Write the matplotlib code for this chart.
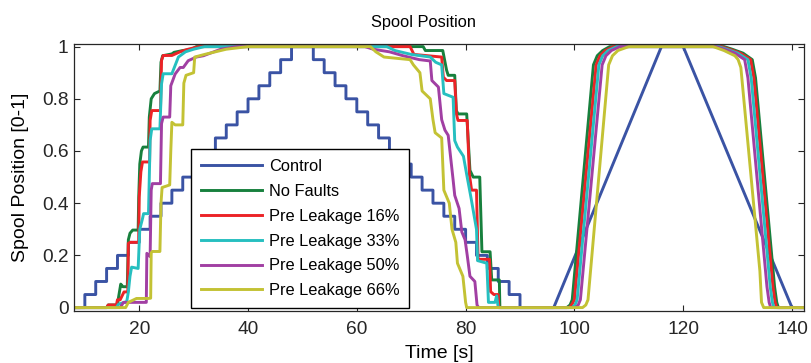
import numpy as np
import matplotlib
matplotlib.use("Agg")
import matplotlib.pyplot as plt

plt.rcParams['font.family'] = ['Liberation Sans', 'DejaVu Sans']

# control signal: staircase part (level held from each time on)
ctrl_step_t = [8, 10, 12, 14, 16, 18, 20, 22, 24, 26, 28, 30, 32, 34, 36, 38, 40,
               42, 44, 46, 48, 52, 54, 56, 58, 60, 62, 64, 66, 68, 70, 72, 74, 76,
               78, 80, 82, 84, 86, 88, 90]
ctrl_step_y = [0, 0.05, 0.1, 0.15, 0.2, 0.25, 0.3, 0.35, 0.4, 0.45, 0.5, 0.55, 0.6,
               0.65, 0.7, 0.75, 0.8, 0.85, 0.9, 0.95, 1.0, 0.95, 0.9, 0.85, 0.8,
               0.75, 0.7, 0.65, 0.6, 0.55, 0.5, 0.45, 0.4, 0.35, 0.3, 0.25, 0.2,
               0.15, 0.1, 0.05, 0]
# control signal: ramp part
ctrl_ramp_t = [96.2, 116, 120, 140, 142]
ctrl_ramp_y = [0, 1, 1, 0, 0]

no_faults = [(8, 0), (14.0, 0), (14.3, 0.01), (16.0, 0.01), (16.2, 0.04), (16.6, 0.09),
             (17.0, 0.08), (17.8, 0.08), (18.0, 0.26), (18.3, 0.285), (18.8, 0.297),
             (19.8, 0.297), (19.9, 0.42), (20.1, 0.55), (20.4, 0.60), (20.7, 0.615),
             (21.7, 0.615), (21.85, 0.73), (22.2, 0.80), (22.8, 0.82), (23.8, 0.83),
             (24.0, 0.94), (24.3, 0.965), (26.0, 0.972), (26.4, 0.978), (28.0, 0.985),
             (29.6, 0.99), (30.5, 1.0), (72.2, 1.0), (72.6, 0.985), (75.8, 0.985),
             (76.5, 0.91), (76.8, 0.89), (78.0, 0.89), (78.3, 0.755), (78.6, 0.742),
             (80.2, 0.742), (80.8, 0.526), (81.4, 0.50), (82.6, 0.50), (83.0, 0.214),
             (84.5, 0.214), (84.8, 0.106), (86.2, 0.106), (86.3, 0), (98.6, 0),
             (99.2, 0.01), (99.6, 0.03), (103.5, 0.93), (104.2, 0.965), (105.2, 0.985),
             (106.5, 1.0), (127.5, 1.0), (129.0, 0.99), (131.0, 0.975), (132.7, 0.95),
             (133.3, 0.88), (136.8, 0.08), (137.2, 0.02), (137.5, 0), (142, 0)]

leak16 = [(8, 0), (14.0, 0), (14.3, 0.01), (15.8, 0.01), (16.0, 0.03), (16.5, 0.03),
          (17.2, 0.06), (17.9, 0.06), (18.0, 0.246), (18.3, 0.25), (19.9, 0.25),
          (20.0, 0.424), (20.3, 0.52), (20.6, 0.558), (21.9, 0.558), (22.0, 0.717),
          (22.3, 0.755), (23.9, 0.755), (24.1, 0.947), (24.4, 0.966), (26.0, 0.966),
          (27.5, 0.98), (29.0, 0.99), (31.0, 1.0), (69.8, 1.0), (70.5, 0.97),
          (75.6, 0.96), (75.9, 0.883), (76.5, 0.87), (78.0, 0.87), (78.3, 0.743),
          (78.6, 0.717), (80.3, 0.717), (80.7, 0.51), (81.1, 0.45), (82.0, 0.45),
          (82.3, 0.18), (82.6, 0.185), (84.4, 0.185), (84.6, 0.061), (85.2, 0.05),
          (86.0, 0.05), (86.1, 0), (99.0, 0), (99.5, 0.01), (100.0, 0.03),
          (104.0, 0.93), (104.7, 0.965), (105.7, 0.985), (107.2, 1.0), (127.0, 1.0),
          (128.5, 0.99), (130.5, 0.975), (132.4, 0.95), (133.0, 0.88), (136.5, 0.08),
          (136.9, 0.02), (137.2, 0), (142, 0)]

leak33 = [(8, 0), (15.8, 0), (16.2, 0.013), (17.7, 0.023), (18.0, 0.06), (18.3, 0.12),
          (18.6, 0.155), (19.8, 0.15), (20.1, 0.30), (20.6, 0.341), (20.8, 0.36),
          (21.7, 0.36), (22.0, 0.64), (22.3, 0.685), (23.8, 0.685), (24.1, 0.857),
          (24.4, 0.896), (26.0, 0.896), (27.2, 0.96), (28.5, 0.98), (30.0, 0.99),
          (32.0, 1.0), (65.5, 1.0), (67.0, 0.985), (70.0, 0.97), (73.5, 0.96),
          (74.5, 0.94), (75.6, 0.93), (76.0, 0.82), (77.7, 0.806), (78.0, 0.64),
          (78.5, 0.615), (79.6, 0.58), (80.2, 0.51), (81.0, 0.42), (82.0, 0.30),
          (82.2, 0.18), (83.9, 0.17), (84.2, 0.02), (85.4, 0.02), (85.7, 0.045),
          (86.0, 0), (99.6, 0), (100.1, 0.01), (100.5, 0.03), (104.5, 0.93),
          (105.2, 0.965), (106.2, 0.985), (107.8, 1.0), (126.5, 1.0), (128.0, 0.99),
          (130.0, 0.975), (131.9, 0.95), (132.5, 0.88), (136.0, 0.08), (136.4, 0.02),
          (136.7, 0), (142, 0)]

leak50 = [(8, 0), (16.5, 0), (17.1, 0.02), (21.3, 0.02), (21.4, 0.208), (22.0, 0.195),
          (22.2, 0.45), (22.4, 0.475), (23.9, 0.475), (24.1, 0.705), (24.4, 0.73),
          (25.6, 0.73), (25.8, 0.85), (26.6, 0.895), (27.5, 0.92), (28.1, 0.92),
          (29.0, 0.946), (30.5, 0.96), (31.8, 0.965), (35.0, 0.99), (38.0, 1.0),
          (61.5, 1.0), (63.0, 0.99), (66.0, 0.98), (68.5, 0.965), (71.5, 0.95),
          (73.5, 0.945), (73.8, 0.87), (75.0, 0.845), (75.6, 0.72), (76.2, 0.68),
          (76.8, 0.66), (77.7, 0.49), (78.0, 0.43), (78.8, 0.38), (79.3, 0.29),
          (79.9, 0.26), (80.3, 0.2), (80.8, 0.12), (81.7, 0.1), (82.1, 0.01),
          (82.4, 0), (100.2, 0), (100.7, 0.01), (101.1, 0.03), (105.1, 0.93),
          (105.8, 0.965), (106.8, 0.985), (108.4, 1.0), (126.0, 1.0), (127.5, 0.99),
          (129.5, 0.975), (131.3, 0.95), (131.9, 0.88), (135.4, 0.08), (135.8, 0.02),
          (136.1, 0), (142, 0)]

leak66 = [(8, 0), (17.5, 0), (18.0, 0.02), (19.5, 0.035), (21.7, 0.035), (22.1, 0.036),
          (22.2, 0.21), (22.4, 0.215), (23.8, 0.215), (24.0, 0.40), (24.2, 0.46),
          (25.6, 0.47), (25.8, 0.60), (26.0, 0.71), (26.6, 0.70), (28.0, 0.70),
          (28.2, 0.86), (28.6, 0.89), (30.0, 0.90), (30.2, 0.96), (32.0, 0.97),
          (34.0, 0.98), (36.0, 0.99), (40.0, 1.0), (62.5, 1.0), (63.5, 0.98),
          (65.0, 0.96), (69.8, 0.95), (70.4, 0.93), (71.6, 0.90), (72.0, 0.83),
          (73.5, 0.80), (74.0, 0.72), (74.4, 0.67), (75.6, 0.65), (76.0, 0.45),
          (77.0, 0.40), (77.5, 0.30), (78.2, 0.25), (78.5, 0.17), (79.5, 0.12),
          (80.0, 0.02), (80.2, 0), (101.5, 0), (102.1, 0.01), (102.5, 0.03),
          (106.3, 0.93), (107.0, 0.965), (108.0, 0.985), (110.0, 1.0), (125.5, 1.0),
          (127.5, 0.985), (129.5, 0.965), (130.1, 0.95), (130.6, 0.92), (134.1, 0.14),
          (134.4, 0.02), (134.8, 0), (142, 0)]

labels = ['Control', 'No Faults', 'Pre Leakage 16%', 'Pre Leakage 33%',
          'Pre Leakage 50%', 'Pre Leakage 66%']
colors = ['#3a53a4', '#17803d', '#ec2327', '#26bfc0', '#a13fa3', '#c3c234']

# staircase control -> polyline vertices
ct, cy = [ctrl_step_t[0]], [ctrl_step_y[0]]
for i in range(1, len(ctrl_step_t)):
    ct += [ctrl_step_t[i], ctrl_step_t[i]]
    cy += [ctrl_step_y[i - 1], ctrl_step_y[i]]
ct += ctrl_ramp_t
cy += ctrl_ramp_y

fig = plt.figure(figsize=(8.11, 3.63), dpi=100)
ax = fig.add_axes([0.0912, 0.1433, 0.9001, 0.7355])

ax.plot(ct, cy, color=colors[0], lw=2.1, label=labels[0])
for series, col, lab in zip([no_faults, leak16, leak33, leak50, leak66], colors[1:], labels[1:]):
    t, y = zip(*series)
    ax.plot(t, y, color=col, lw=2.1, label=lab)

ax.set_xlim(8, 142.2)
ax.set_ylim(-0.013, 1.01)
ax.set_xticks([20, 40, 60, 80, 100, 120, 140])
ax.set_yticks([0, 0.2, 0.4, 0.6, 0.8, 1])
ax.set_yticklabels(['0', '0.2', '0.4', '0.6', '0.8', '1'])
ax.tick_params(direction='in', top=True, right=True, length=4, labelsize=13.8, colors='#262626')
ax.tick_params(axis='x', pad=7.5)
ax.tick_params(axis='y', pad=4)
for s in ax.spines.values():
    s.set_color('#262626')
    s.set_linewidth(0.9)

ax.set_title('Spool Position', fontsize=11.8, pad=12, x=0.479)
ax.set_xlabel('Time [s]', fontsize=14, labelpad=5)
ax.set_ylabel('Spool Position [0-1]', fontsize=14, labelpad=9)

leg = ax.legend(loc='lower left', bbox_to_anchor=(0.161, 0.011), borderaxespad=0,
                fontsize=11.8, fancybox=False, framealpha=1, edgecolor='#000000',
                handlelength=3.7, handletextpad=0.42, labelspacing=0.6,
                borderpad=0.6)
leg.get_frame().set_linewidth(1.0)

fig.savefig('out.png', dpi=100)
